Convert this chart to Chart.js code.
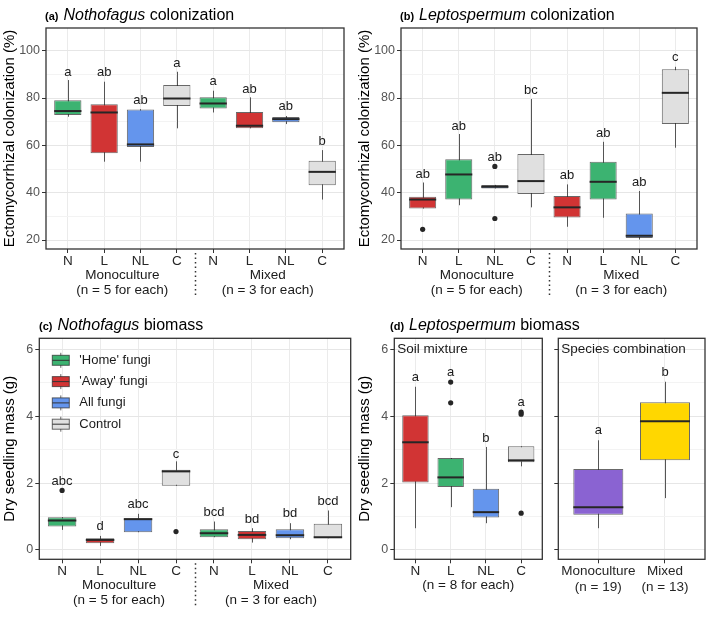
<!DOCTYPE html>
<html>
<head>
<meta charset="utf-8">
<script src="https://cdn.jsdelivr.net/npm/chart.js@4.4.0/dist/chart.umd.min.js"></script>
<style>
  body { margin: 0; background: #fff; width: 709px; height: 621px; overflow: hidden; }
  .panel { position: absolute; }
</style>
</head>
<body>
<div class="panel" style="left:0;top:0"><canvas id="chartA" width="355" height="305"></canvas></div>
<div class="panel" style="left:355px;top:0"><canvas id="chartB" width="354" height="305"></canvas></div>
<div class="panel" style="left:0;top:310px"><canvas id="chartC" width="355" height="311"></canvas></div>
<div class="panel" style="left:355px;top:310px"><canvas id="chartD1" width="354" height="311"></canvas></div>
<div class="panel" style="left:545px;top:310px"><canvas id="chartD2" width="164" height="311"></canvas></div>

<script>
  // categories
  var fungiCats = ['N', 'L', 'NL', 'C', 'N', 'L', 'NL', 'C'];
  var soilCats = ['N', 'L', 'NL', 'C'];
  var comboCats = [['Monoculture', '(n = 19)'], ['Mixed', '(n = 13)']];

  // each box: [lower whisker, Q1, median, Q3, upper whisker]
  var nothoColon = [
    [72.1, 72.8, 74.5, 79.1, 87.6],
    [53.1, 56.7, 73.9, 77.4, 86.9],
    [53.1, 59.3, 60.4, 75.2, 75.3],
    [67.2, 76.6, 79.8, 85.5, 91.1],
    [73.9, 75.6, 77.7, 80.3, 83.1],
    [67.2, 67.2, 68.3, 74.1, 80.3],
    [69.0, 69.8, 71.1, 72.0, 72.4],
    [37.1, 43.1, 48.8, 53.5, 58.0]
  ];
  var nothoColonOutliers = [];
  var nothoColonLetters = ['a', 'ab', 'ab', 'a', 'a', 'ab', 'ab', 'b'];
  var nothoColonLetterY = [90.7, 90.7, 79.1, 94.6, 86.9, 83.7, 76.3, 61.7];

  var leptoColon = [
    [33.3, 33.3, 37.1, 38.3, 44.3],
    [34.7, 37.1, 47.7, 54.1, 64.8],
    [41.8, 41.8, 42.5, 43.3, 43.3],
    [33.8, 39.4, 44.9, 56.3, 79.6],
    [25.6, 29.5, 33.8, 38.6, 43.5],
    [29.4, 37.1, 44.6, 53.1, 61.5],
    [20.2, 20.9, 21.8, 31.2, 40.7],
    [59.0, 69.0, 82.2, 92.2, 93.2]
  ];
  var leptoColonOutliers = [[1, 24.5], [3, 51.1], [3, 29.1]];
  var leptoColonLetters = ['ab', 'ab', 'ab', 'bc', 'ab', 'ab', 'ab', 'c'];
  var leptoColonLetterY = [47.8, 68.1, 54.9, 83.1, 47.4, 65.0, 44.3, 97.0];

  var nothoMass = [
    [0.60, 0.70, 0.88, 0.98, 0.98],
    [0.12, 0.20, 0.30, 0.35, 0.42],
    [0.53, 0.53, 0.92, 0.95, 1.08],
    [1.92, 1.92, 2.35, 2.40, 2.65],
    [0.38, 0.38, 0.50, 0.62, 0.85],
    [0.22, 0.32, 0.45, 0.57, 0.65],
    [0.32, 0.35, 0.44, 0.62, 0.80],
    [0.35, 0.35, 0.38, 0.78, 1.18]
  ];
  var nothoMassOutliers = [[1, 1.78], [4, 0.55]];
  var nothoMassLetters = ['abc', 'd', 'abc', 'c', 'bcd', 'bd', 'bd', 'bcd'];
  var nothoMassLetterY = [2.05, 0.70, 1.37, 2.85, 1.13, 0.92, 1.10, 1.45];

  var leptoSoilMass = [
    [0.65, 2.02, 3.22, 4.03, 4.88],
    [1.28, 1.88, 2.17, 2.75, 2.75],
    [0.80, 0.97, 1.13, 1.83, 3.08],
    [2.50, 2.62, 2.68, 3.10, 3.10]
  ];
  var leptoSoilOutliers = [[2, 5.02], [2, 4.40], [4, 4.12], [4, 4.06], [4, 1.10]];
  var leptoSoilLetters = ['a', 'a', 'b', 'a'];
  var leptoSoilLetterY = [5.15, 5.30, 3.35, 4.40];

  var leptoComboMass = [
    [0.65, 1.05, 1.28, 2.42, 3.28],
    [1.55, 2.68, 3.85, 4.42, 5.03]
  ];
  var leptoComboOutliers = [];
  var leptoComboLetters = ['a', 'b'];
  var leptoComboLetterY = [3.58, 5.30];

  var legendLabels = ["'Home' fungi", "'Away' fungi", 'All fungi', 'Control'];

  var colonTicks = [20, 30, 40, 50, 60, 70, 80, 90, 100];
  var colonMajor = [20, 40, 60, 80, 100];
  var massTicks = [0, 1, 2, 3, 4, 5, 6];
  var massMajor = [0, 2, 4, 6];

  // colours
  var green = '#3CB371', red = '#D13434', blue = '#6495ED', grey = '#E0E0E0', purple = '#8A63D2', gold = '#FFD700';
  var homeAwayFills = [green, red, blue, grey, green, red, blue, grey];
  var awayHomeFills = [red, green, blue, grey, red, green, blue, grey];
  var FONT = '"Liberation Sans", Arial, sans-serif';

  function drawTitle(ctx, x, y, tag, genus, rest) {
    ctx.textAlign = 'left';
    ctx.textBaseline = 'alphabetic';
    ctx.fillStyle = '#000';
    ctx.font = 'bold 11px ' + FONT;
    ctx.fillText(tag, x, y);
    x += ctx.measureText(tag).width + 5;
    ctx.font = 'italic 16px ' + FONT;
    ctx.fillText(genus, x, y);
    x += ctx.measureText(genus).width;
    ctx.font = '16px ' + FONT;
    ctx.fillText(' ' + rest, x, y);
  }

  function glyph(ctx, cx, cy, fill) {
    ctx.strokeStyle = '#666';
    ctx.lineWidth = 1;
    ctx.beginPath();
    ctx.moveTo(cx + 0.5, cy - 7.5);
    ctx.lineTo(cx + 0.5, cy + 7.5);
    ctx.stroke();
    ctx.fillStyle = fill;
    ctx.fillRect(cx - 8, cy - 5, 17, 10);
    ctx.strokeStyle = 'rgba(40,40,40,0.7)';
    ctx.strokeRect(cx - 8, cy - 5, 17, 10);
    ctx.strokeStyle = '#333';
    ctx.beginPath();
    ctx.moveTo(cx - 8, cy);
    ctx.lineTo(cx + 9, cy);
    ctx.stroke();
  }

  function boxPanel(id, p) {
    var n = p.stats.length;
    var plugin = {
      id: 'box_' + id,
      beforeDatasetsDraw: function (chart) {
        var ctx = chart.ctx, xs = chart.scales.x, ys = chart.scales.y;
        ctx.save();
        ctx.strokeStyle = '#555';
        ctx.lineWidth = 1;
        p.stats.forEach(function (s, i) {
          var x = Math.round(xs.getPixelForValue(i + 1)) + 0.5;
          ctx.beginPath();
          ctx.moveTo(x, ys.getPixelForValue(s[0]));
          ctx.lineTo(x, ys.getPixelForValue(s[4]));
          ctx.stroke();
        });
        ctx.restore();
      },
      afterDatasetsDraw: function (chart) {
        var ctx = chart.ctx, xs = chart.scales.x, ys = chart.scales.y, area = chart.chartArea;
        var bars = chart.getDatasetMeta(0).data;
        ctx.save();
        ctx.strokeStyle = '#262626';
        ctx.lineWidth = 2;
        p.stats.forEach(function (s, i) {
          var b = bars[i], y = ys.getPixelForValue(s[2]);
          ctx.beginPath();
          ctx.moveTo(b.x - b.width / 2, y);
          ctx.lineTo(b.x + b.width / 2, y);
          ctx.stroke();
        });
        // significance letters
        ctx.fillStyle = '#1a1a1a';
        ctx.font = '13px ' + FONT;
        ctx.textAlign = 'center';
        ctx.textBaseline = 'middle';
        p.letters.forEach(function (l, i) {
          ctx.fillText(l, xs.getPixelForValue(i + 1), ys.getPixelForValue(p.letterY[i]));
        });
        // panel border
        ctx.strokeStyle = '#333';
        ctx.lineWidth = 1.3;
        ctx.strokeRect(area.left, area.top, area.right - area.left, area.bottom - area.top);
        // title
        if (p.title) drawTitle(ctx, p.title[0], 20, p.title[1], p.title[2], p.title[3]);
        // note inside plot
        if (p.note) {
          ctx.fillStyle = '#1a1a1a';
          ctx.font = '13.5px ' + FONT;
          ctx.textAlign = 'left';
          ctx.textBaseline = 'middle';
          ctx.fillText(p.note, area.left + 3, ys.getPixelForValue(6));
        }
        // group labels under the axis
        if (p.groups) {
          ctx.fillStyle = '#1a1a1a';
          ctx.font = '13.5px ' + FONT;
          ctx.textAlign = 'center';
          ctx.textBaseline = 'middle';
          p.groups.forEach(function (g) {
            var gx = xs.getPixelForValue(g.at);
            g.lines.forEach(function (t, k) {
              ctx.fillText(t, gx, area.bottom + 26 + k * 15);
            });
          });
        }
        if (p.sep) {
          var sx = Math.round(xs.getPixelForValue(p.sep)) + 0.5;
          ctx.strokeStyle = '#333';
          ctx.lineWidth = 1.5;
          ctx.setLineDash([1.5, 3]);
          ctx.beginPath();
          ctx.moveTo(sx, area.bottom + 4);
          ctx.lineTo(sx, area.bottom + 48);
          ctx.stroke();
          ctx.setLineDash([]);
        }
        if (p.legend) {
          p.legend.forEach(function (lab, k) {
            var cy = area.top + 22 + k * 21.3;
            glyph(ctx, area.left + 21, cy, p.legendFills[k]);
            ctx.fillStyle = '#1a1a1a';
            ctx.font = '13px ' + FONT;
            ctx.textAlign = 'left';
            ctx.textBaseline = 'middle';
            ctx.fillText(lab, area.left + 40, cy);
          });
        }
        ctx.restore();
      }
    };

    new Chart(document.getElementById(id), {
      type: 'bar',
      data: {
        datasets: [{
          type: 'bar',
          data: p.stats.map(function (s, i) { return { x: i + 1, y: [s[1], s[3]] }; }),
          backgroundColor: p.fills,
          borderColor: 'rgba(40,40,40,0.7)',
          borderWidth: 1,
          borderSkipped: false,
          barPercentage: 0.75,
          categoryPercentage: 1
        }, {
          type: 'scatter',
          data: p.outliers.map(function (o) { return { x: o[0], y: o[1] }; }),
          pointRadius: 2.6,
          backgroundColor: '#262626',
          borderWidth: 0
        }]
      },
      options: {
        responsive: false,
        animation: false,
        events: [],
        layout: { padding: p.pad },
        plugins: { legend: { display: false }, tooltip: { enabled: false } },
        scales: {
          x: {
            type: 'linear',
            offset: false,
            min: 0.4,
            max: n + 0.6,
            afterBuildTicks: function (s) {
              s.ticks = p.stats.map(function (d, i) { return { value: i + 1 }; });
            },
            afterFit: function (s) { s.height = p.xh; },
            ticks: {
              autoSkip: false,
              maxRotation: 0,
              padding: 0,
              color: '#262626',
              font: { family: FONT, size: 13.5 },
              callback: function (v, i) { return p.cats[i]; }
            },
            grid: { offset: false, color: '#ebebeb', tickColor: '#333', tickLength: 4 },
            border: { display: false }
          },
          y: {
            min: p.ymin,
            max: p.ymax,
            afterBuildTicks: function (s) {
              s.ticks = p.yTicks.map(function (v) { return { value: v }; });
            },
            afterFit: function (s) { s.width = p.yw; },
            ticks: {
              padding: 2,
              color: '#555',
              font: { family: FONT, size: 12.5 },
              callback: function (v) {
                return (p.yLabels && p.yMajor.indexOf(v) >= 0) ? String(v) : '';
              }
            },
            grid: {
              color: function (c) { return p.yMajor.indexOf(c.tick.value) >= 0 ? '#e6e6e6' : '#f3f3f3'; },
              tickColor: function (c) { return p.yMajor.indexOf(c.tick.value) >= 0 ? '#333' : 'rgba(0,0,0,0)'; },
              tickLength: 4
            },
            border: { display: false },
            title: {
              display: !!p.yTitle,
              text: p.yTitle || '',
              color: '#000',
              font: { family: FONT, size: 15 },
              padding: { top: 1, bottom: 0 }
            }
          }
        }
      },
      plugins: [plugin]
    });
  }

  boxPanel('chartA', {
    stats: nothoColon, outliers: nothoColonOutliers, letters: nothoColonLetters, letterY: nothoColonLetterY,
    cats: fungiCats, fills: homeAwayFills,
    ymin: 16.2, ymax: 109.6, yTicks: colonTicks, yMajor: colonMajor, yLabels: true,
    yTitle: 'Ectomycorrhizal colonization (%)',
    pad: { left: 0, top: 28, right: 11, bottom: 0 }, yw: 46, xh: 56,
    title: [45, '(a)', 'Nothofagus', 'colonization'],
    groups: [{ at: 2.5, lines: ['Monoculture', '(n = 5 for each)'] }, { at: 6.5, lines: ['Mixed', '(n = 3 for each)'] }],
    sep: 4.5
  });

  boxPanel('chartB', {
    stats: leptoColon, outliers: leptoColonOutliers, letters: leptoColonLetters, letterY: leptoColonLetterY,
    cats: fungiCats, fills: awayHomeFills,
    ymin: 16.2, ymax: 109.6, yTicks: colonTicks, yMajor: colonMajor, yLabels: true,
    yTitle: 'Ectomycorrhizal colonization (%)',
    pad: { left: 0, top: 28, right: 12, bottom: 0 }, yw: 46, xh: 56,
    title: [45, '(b)', 'Leptospermum', 'colonization'],
    groups: [{ at: 2.5, lines: ['Monoculture', '(n = 5 for each)'] }, { at: 6.5, lines: ['Mixed', '(n = 3 for each)'] }],
    sep: 4.5
  });

  boxPanel('chartC', {
    stats: nothoMass, outliers: nothoMassOutliers, letters: nothoMassLetters, letterY: nothoMassLetterY,
    cats: fungiCats, fills: homeAwayFills,
    ymin: -0.28, ymax: 6.33, yTicks: massTicks, yMajor: massMajor, yLabels: true,
    yTitle: 'Dry seedling mass (g)',
    pad: { left: 0, top: 28.3, right: 4.3, bottom: 0 }, yw: 39.3, xh: 61.7,
    title: [39, '(c)', 'Nothofagus', 'biomass'],
    groups: [{ at: 2.5, lines: ['Monoculture', '(n = 5 for each)'] }, { at: 6.5, lines: ['Mixed', '(n = 3 for each)'] }],
    sep: 4.5,
    legend: legendLabels, legendFills: [green, red, blue, grey]
  });

  boxPanel('chartD1', {
    stats: leptoSoilMass, outliers: leptoSoilOutliers, letters: leptoSoilLetters, letterY: leptoSoilLetterY,
    cats: soilCats, fills: [red, green, blue, grey],
    ymin: -0.28, ymax: 6.33, yTicks: massTicks, yMajor: massMajor, yLabels: true,
    yTitle: 'Dry seedling mass (g)',
    pad: { left: 0, top: 28.3, right: 166.7, bottom: 0 }, yw: 39.3, xh: 61.7,
    title: [35, '(d)', 'Leptospermum', 'biomass'],
    note: 'Soil mixture',
    groups: [{ at: 2.5, lines: ['(n = 8 for each)'] }]
  });

  boxPanel('chartD2', {
    stats: leptoComboMass, outliers: leptoComboOutliers, letters: leptoComboLetters, letterY: leptoComboLetterY,
    cats: comboCats, fills: [purple, gold],
    ymin: -0.28, ymax: 6.33, yTicks: massTicks, yMajor: massMajor, yLabels: false,
    pad: { left: 0, top: 28.3, right: 4, bottom: 0 }, yw: 13.3, xh: 61.7,
    note: 'Species combination'
  });
</script>
</body>
</html>
